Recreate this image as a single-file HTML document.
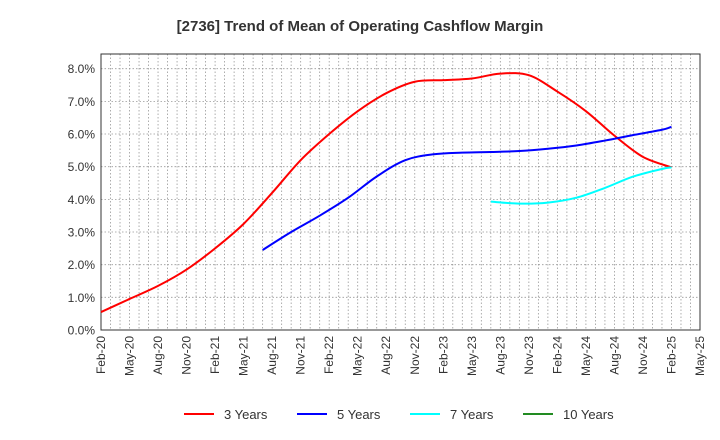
<!DOCTYPE html>
<html><head><meta charset="utf-8"><style>
html,body{margin:0;padding:0;background:#fff;}
svg{display:block;font-family:"Liberation Sans",Arial,sans-serif;}
</style></head><body>
<svg id="chart" width="720" height="440">
<text x="360" y="31" text-anchor="middle" font-size="15" font-weight="bold" fill="#333">[2736]  Trend of Mean of Operating Cashflow Margin</text>
<g id="grid"></g>
<g id="axes"></g>
<g id="series"></g>
<g id="legend"></g>
</svg>
<script>
const xTickLabels=["Feb-20","May-20","Aug-20","Nov-20","Feb-21","May-21","Aug-21","Nov-21","Feb-22","May-22","Aug-22","Nov-22","Feb-23","May-23","Aug-23","Nov-23","Feb-24","May-24","Aug-24","Nov-24","Feb-25","May-25"];
const yTicks=[0,1,2,3,4,5,6,7,8];
// months since Feb-20
const m3=[0,3,6,9,12,15,18,21,24,27,30,33,36,39,42,45,48,51,54,57,60];
const v3=[0.55,0.95,1.35,1.85,2.5,3.25,4.2,5.2,6.0,6.7,7.25,7.6,7.65,7.7,7.85,7.8,7.3,6.7,5.95,5.3,4.98];
const m5=[17,20,23,26,29,32,35,38,41,44,47,50,53,56,59,60];
const v5=[2.45,3.0,3.5,4.05,4.7,5.2,5.38,5.43,5.45,5.48,5.55,5.65,5.8,5.97,6.13,6.22];
const m7=[41,44,47,50,53,56,59,60];
const v7=[3.93,3.87,3.9,4.05,4.35,4.7,4.93,4.98];
const m10=[];const v10=[];
const L=101,R=700,T=54,B=330;
const x=m=>L+(R-L)*m/63;
const y=v=>B-(v/8.45)*(B-T);
const NS="http://www.w3.org/2000/svg";
function mk(t,a,p){const e=document.createElementNS(NS,t);for(const k in a)e.setAttribute(k,a[k]);p.appendChild(e);return e;}
const grid=document.getElementById('grid'),axes=document.getElementById('axes'),ser=document.getElementById('series'),leg=document.getElementById('legend');
for(let m=1;m<63;m++){const g=mk('line',{x1:x(m),x2:x(m),y1:T,y2:B,stroke:'#999','stroke-width':0.8,'stroke-dasharray':'1.5,2'},grid);

}
yTicks.forEach(v=>{if(v>0){const g=mk('line',{x1:L,x2:R,y1:y(v),y2:y(v),stroke:'#999','stroke-width':0.8,'stroke-dasharray':'1.5,2'},grid);

}
const t=mk('text',{x:L-6,y:y(v)+4.5,'text-anchor':'end','font-size':12,fill:'#333'},axes);t.textContent=v.toFixed(1)+'%';

});
xTickLabels.forEach((s,i)=>{const xx=x(i*3);const t=mk('text',{transform:`translate(${xx+4},${B+6}) rotate(-90)`,'text-anchor':'end','font-size':12,fill:'#333'},axes);t.textContent=s;

});
const fr=mk('rect',{x:L,y:T,width:R-L,height:B-T,fill:'none',stroke:'#333','stroke-width':1},axes);


function path(ms,vs){const p=ms.map((m,i)=>[x(m),y(vs[i])]);if(!p.length)return '';let d=`M${p[0][0]},${p[0][1]}`;
for(let i=0;i<p.length-1;i++){const p0=p[i-1]||p[i],p1=p[i],p2=p[i+1],p3=p[i+2]||p2;
d+=` C${p1[0]+(p2[0]-p0[0])/6},${p1[1]+(p2[1]-p0[1])/6} ${p2[0]-(p3[0]-p1[0])/6},${p2[1]-(p3[1]-p1[1])/6} ${p2[0]},${p2[1]}`;}return d;}
[[m3,v3,'#ff0000','line-3-years'],[m5,v5,'#0000ff','line-5-years'],[m7,v7,'#00ffff','line-7-years'],[m10,v10,'#228b22','line-10-years']].forEach(([m,v,c,n])=>{
if(!m.length)return;const e=mk('path',{d:path(m,v),fill:'none',stroke:c,'stroke-width':2},ser);

});
[['3 Years','#ff0000',184],['5 Years','#0000ff',297],['7 Years','#00ffff',410],['10 Years','#228b22',523]].forEach(([s,c,lx])=>{
const g=mk('g',{},leg);


mk('line',{x1:lx,x2:lx+30,y1:414,y2:414,stroke:c,'stroke-width':2},g);
const t=mk('text',{x:lx+40,y:419,'font-size':13,fill:'#333'},g);t.textContent=s;});
</script>
</body></html>
